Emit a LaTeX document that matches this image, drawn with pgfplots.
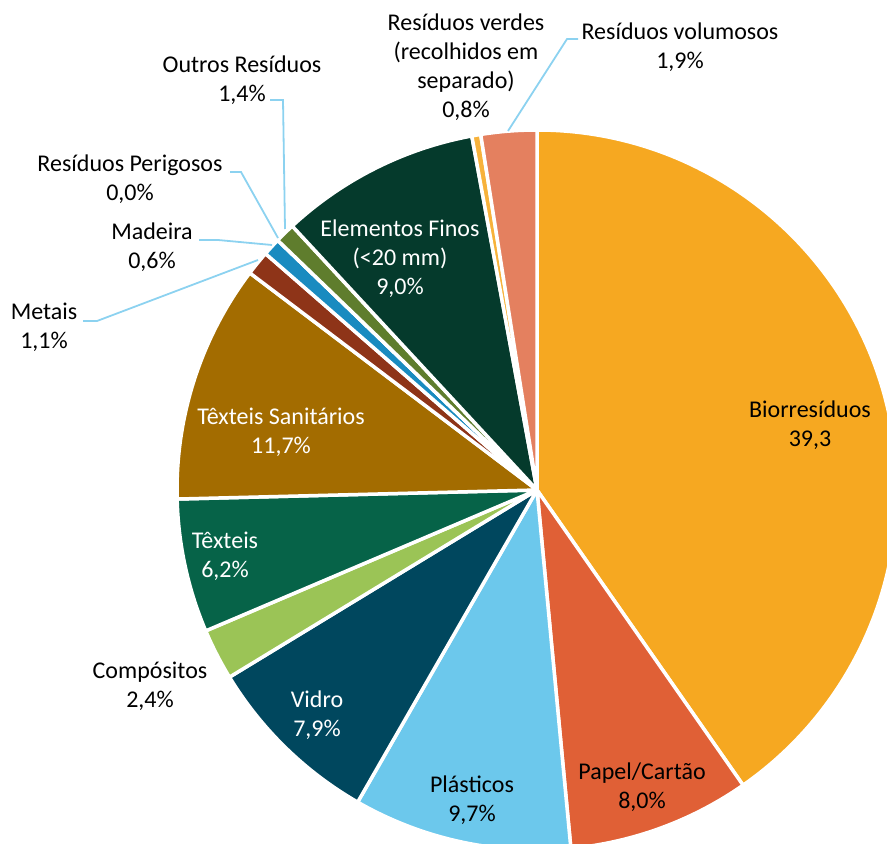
\documentclass[border=0pt]{standalone}
\usepackage{fontspec}
\setmainfont{Carlito}
\usepackage{pgfplots}
\pgfplotsset{compat=1.18}
\definecolor{cBio}{HTML}{F6A821}
\definecolor{cPapel}{HTML}{E06036}
\definecolor{cPlast}{HTML}{6CC8EC}
\definecolor{cVidro}{HTML}{00475E}
\definecolor{cComp}{HTML}{9BC456}
\definecolor{cTex}{HTML}{066348}
\definecolor{cTS}{HTML}{A36C00}
\definecolor{cMet}{HTML}{8E3418}
\definecolor{cMad}{HTML}{198BC0}
\definecolor{cPer}{HTML}{7F7F7F}
\definecolor{cOut}{HTML}{5F7D2D}
\definecolor{cEl}{HTML}{053A2C}
\definecolor{cVer}{HTML}{F7B23B}
\definecolor{cVol}{HTML}{E4805F}
\definecolor{cLead}{HTML}{8CD2F0}
\newcommand\lbl{\fontsize{12}{14.5}\selectfont}
\begin{document}
\begin{tikzpicture}
\begin{axis}[width=443.5pt,height=422pt,scale only axis,
  xmin=0,xmax=887,ymin=0,ymax=844,y dir=reverse,hide axis,clip=true]
\xdef\cum{0}
\foreach \v/\c in {40.3/cBio,8.2/cPapel,9.8/cPlast,8.0/cVidro,2.3/cComp,6.0/cTex,10.7/cTS,1.1/cMet,0.8/cMad,0.0/cPer,0.9/cOut,9.0/cEl,0.4/cVer,2.5/cVol}{
  \pgfmathsetmacro{\a}{90-3.6*\cum}
  \pgfmathsetmacro{\b}{90-3.6*(\cum+\v)}
  \edef\temp{\noexpand\fill[fill=\c,draw=white,line width=1.75pt,line join=round] (axis cs:537,490) -- ++(\a:180pt) arc[start angle=\a,end angle=\b,radius=180pt] -- cycle;}
  \temp
  \pgfmathsetmacro{\n}{\cum+\v}
  \xdef\cum{\n}
}
% leader lines
\draw[cLead,line width=0.9pt] (axis cs:508,131) -- (axis cs:567,39) -- (axis cs:578,39);
\draw[cLead,line width=0.9pt] (axis cs:270,100) -- (axis cs:283,100) -- (axis cs:285,229);
\draw[cLead,line width=0.9pt] (axis cs:230,172) -- (axis cs:241,172) -- (axis cs:278,238);
\draw[cLead,line width=0.9pt] (axis cs:199,240) -- (axis cs:218,240) -- (axis cs:272,245);
\draw[cLead,line width=0.9pt] (axis cs:83,321) -- (axis cs:97,321) -- (axis cs:258,260);
% labels
\node[align=center,font=\lbl,text=black] at (axis cs:810,425) {Biorresíduos\\39,3};
\node[align=center,font=\lbl,text=black] at (axis cs:642,787) {Papel/Cartão\\8,0\%};
\node[align=center,font=\lbl,text=black] at (axis cs:472,800) {Plásticos\\9,7\%};
\node[align=center,font=\lbl,text=white] at (axis cs:317,715) {Vidro\\7,9\%};
\node[align=center,font=\lbl,text=black] at (axis cs:150,686) {Compósitos\\2,4\%};
\node[align=center,font=\lbl,text=white] at (axis cs:225,556) {Têxteis\\6,2\%};
\node[align=center,font=\lbl,text=white] at (axis cs:281,432) {Têxteis Sanitários\\11,7\%};
\node[align=center,font=\lbl,text=black] at (axis cs:44,327) {Metais\\1,1\%};
\node[align=center,font=\lbl,text=black] at (axis cs:152,247) {Madeira\\0,6\%};
\node[align=center,font=\lbl,text=black] at (axis cs:130,179) {Resíduos Perigosos\\0,0\%};
\node[align=center,font=\lbl,text=black] at (axis cs:242,80) {Outros Resíduos\\1,4\%};
\node[align=center,font=\lbl,text=white] at (axis cs:400,259) {Elementos Finos\\(<20 mm)\\9,0\%};
\node[align=center,font=\lbl,text=black] at (axis cs:466,67) {Resíduos verdes\\(recolhidos em\\separado)\\0,8\%};
\node[align=center,font=\lbl,text=black] at (axis cs:680,47) {Resíduos volumosos\\1,9\%};
\end{axis}
\pgfresetboundingbox
\path[use as bounding box] (current axis.south west) rectangle (current axis.north east);
\end{tikzpicture}
\end{document}
